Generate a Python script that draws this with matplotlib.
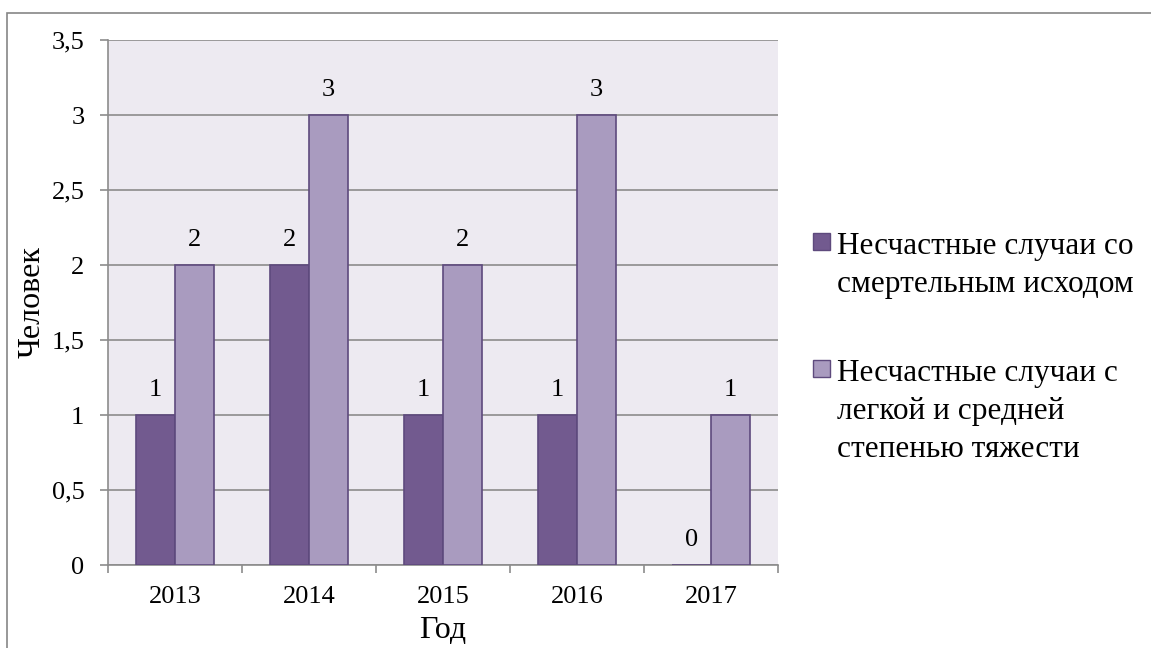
import numpy as np
import matplotlib.pyplot as plt
from matplotlib.patches import Rectangle
from matplotlib.ticker import FuncFormatter

plt.rcParams['font.family'] = ['Liberation Serif', 'DejaVu Serif']

years = ['2013', '2014', '2015', '2016', '2017']
fatal = [1, 2, 1, 1, 0]
light = [2, 3, 2, 3, 1]
labels = ['Несчастные случаи со\nсмертельным исходом',
          'Несчастные случаи с\nлегкой и средней\nстепенью тяжести']

dark_col = '#725A8F'
light_col = '#A99BBF'
edge_col = '#5E4A7D'
grid_col = '#8C8C8C'

W, H = 1151, 648
fig = plt.figure(figsize=(W/100, H/100), dpi=100)
ax = fig.add_axes([108/W, 1-565/H, 670/W, 525/H])
ax.set_facecolor('#EDEAF1')

x = np.arange(len(years))
w = 0.29
b1 = ax.bar(x - w/2, fatal, w, color=dark_col, edgecolor=edge_col, linewidth=1.2, zorder=3)
b2 = ax.bar(x + w/2, light, w, color=light_col, edgecolor=edge_col, linewidth=1.2, zorder=3)
ax.bar_label(b1, fmt='%d', padding=10, fontsize=19)
ax.bar_label(b2, fmt='%d', padding=10, fontsize=19)

ax.set_xlim(-0.5, 4.5)
ax.set_ylim(0, 3.5)
ax.set_yticks(np.arange(0, 3.51, 0.5))
ax.yaxis.set_major_formatter(FuncFormatter(lambda v, p: ('%g' % v).replace('.', ',')))
ax.yaxis.grid(True, color=grid_col, linewidth=1.2, zorder=0)

ax.set_xticks(np.arange(-0.5, 4.6, 1))
ax.set_xticklabels([])
ax.set_xticks(x, minor=True)
ax.set_xticklabels(years, minor=True)
ax.tick_params(axis='x', which='major', length=6, width=1.2, color=grid_col)
ax.tick_params(axis='x', which='minor', length=0, labelsize=19, pad=15)
ax.tick_params(axis='y', length=6, width=1.2, color=grid_col, labelsize=19, pad=11)

for s in ['top', 'right']:
    ax.spines[s].set_visible(False)
for s in ['left', 'bottom']:
    ax.spines[s].set_color(grid_col)
    ax.spines[s].set_linewidth(1.2)

ax.set_ylabel('Человек', fontsize=23)
ax.yaxis.set_label_coords(-0.092, 0.5)
ax.set_xlabel('Год', fontsize=23)
ax.xaxis.set_label_coords(0.5, -0.097)

# legend drawn by hand so the marker sits by the first line
tops = [232, 359]
for lab, col, yt in zip(labels, [dark_col, light_col], tops):
    fig.patches.append(Rectangle((813/W, 1-(yt+18)/H), 17/W, 17/H, transform=fig.transFigure,
                                 facecolor=col, edgecolor=edge_col, linewidth=1))
    fig.text(837/W, 1-yt/H, lab, fontsize=22.5, va='top', ha='left', linespacing=1.42)

fig.patches.append(Rectangle((7/W, -0.1), 1.2, 1.1-13/H, transform=fig.transFigure,
                             fill=False, edgecolor='#868686', linewidth=1.2))

fig.savefig('out.png', dpi=100)
